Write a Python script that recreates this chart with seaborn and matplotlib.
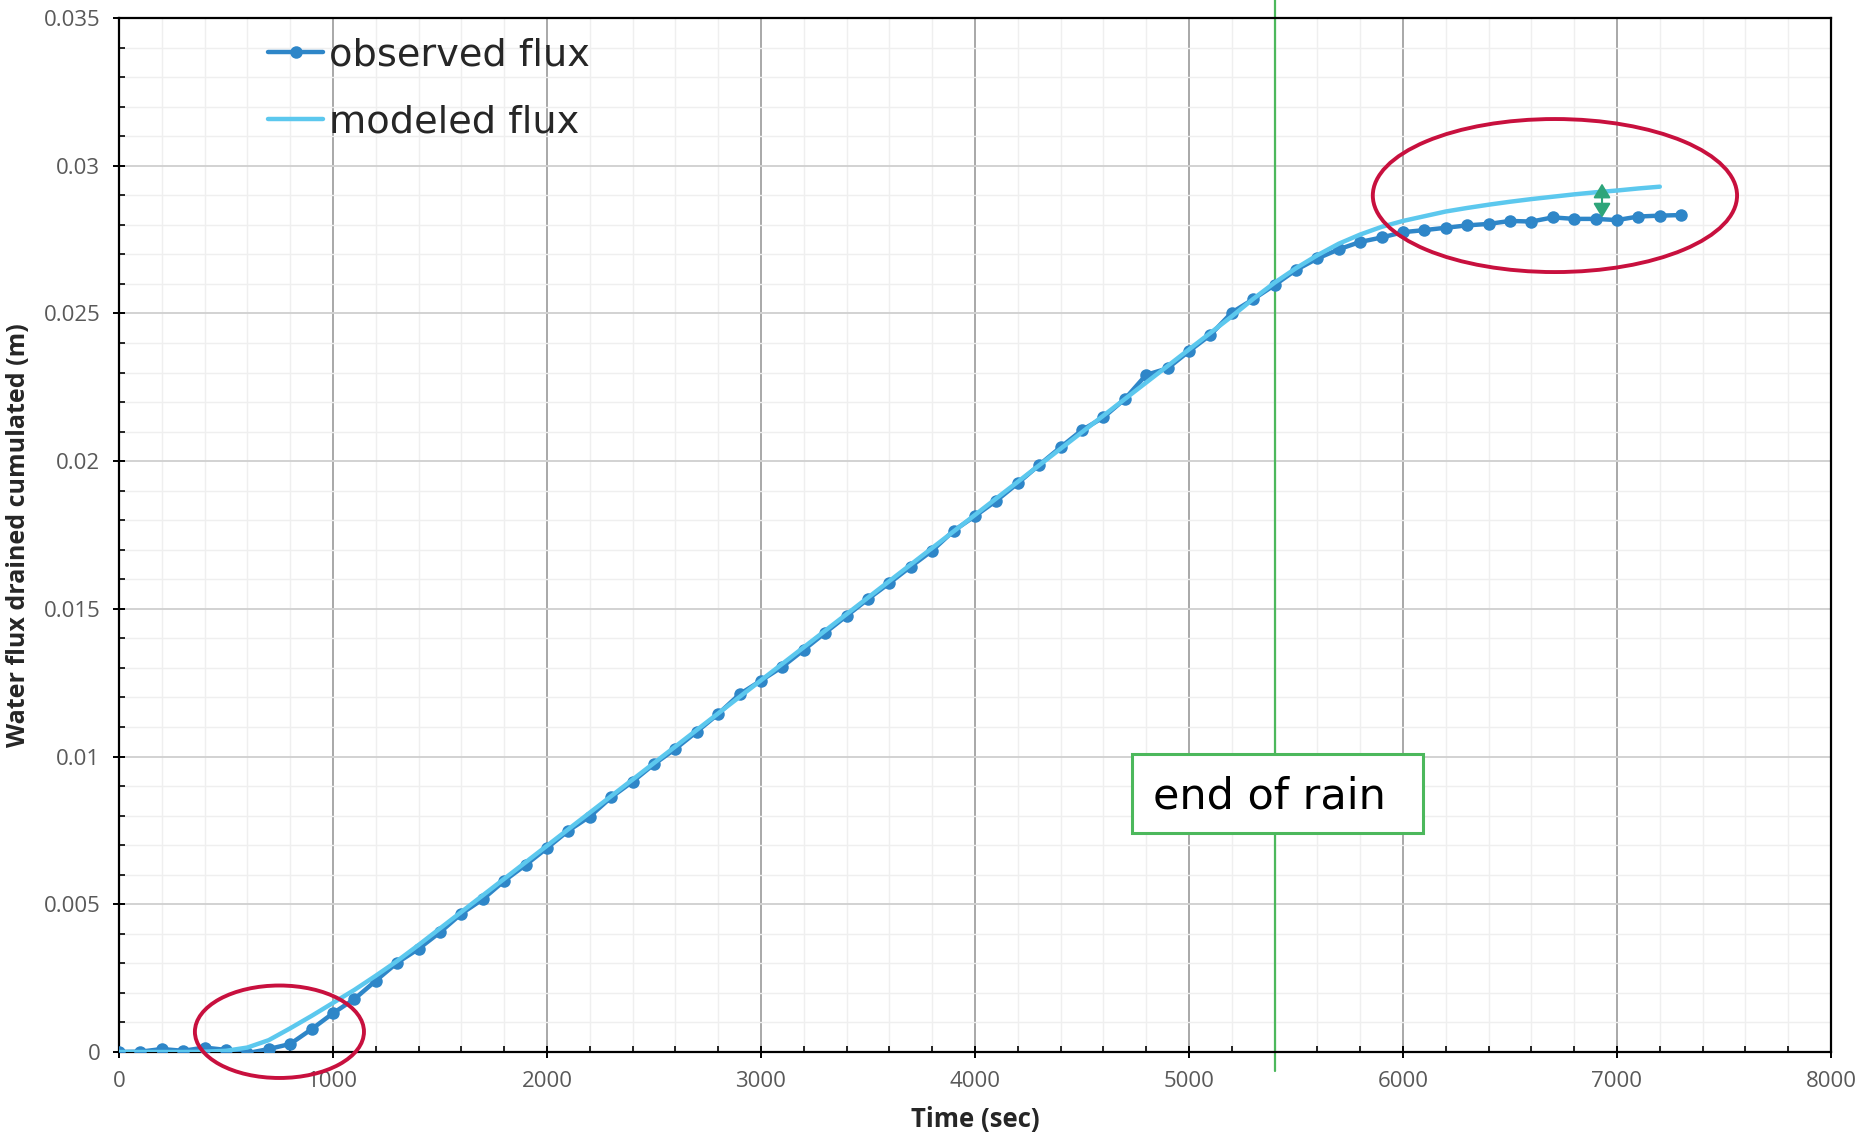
import numpy as np
import pandas as pd
import matplotlib
matplotlib.use("Agg")
import matplotlib.pyplot as plt
import seaborn as sns
from matplotlib.patches import Ellipse, Rectangle
from matplotlib.ticker import MultipleLocator, FuncFormatter

# ---------------- data ----------------
obs_time = [0, 100, 200, 300, 400, 500, 600, 700, 800, 900,
            1000, 1100, 1200, 1300, 1400, 1500, 1600, 1700, 1800, 1900,
            2000, 2100, 2200, 2300, 2400, 2500, 2600, 2700, 2800, 2900,
            3000, 3100, 3200, 3300, 3400, 3500, 3600, 3700, 3800, 3900,
            4000, 4100, 4200, 4300, 4400, 4500, 4600, 4700, 4800, 4900,
            5000, 5100, 5200, 5300, 5400, 5500, 5600, 5700, 5800, 5900,
            6000, 6100, 6200, 6300, 6400, 6500, 6600, 6700, 6800, 6900,
            7000, 7100, 7200, 7300]
obs_flux = [0.0, 0.00001, 0.0001, 0.00004, 0.00015, 0.00007, -0.00004, 0.0001, 0.00027, 0.00077,
            0.00131, 0.00179, 0.00241, 0.00302, 0.00349, 0.00405, 0.00468, 0.00517, 0.00579, 0.00633,
            0.0069, 0.00749, 0.00797, 0.00862, 0.00915, 0.00974, 0.01026, 0.01084, 0.01144, 0.01211,
            0.01257, 0.01304, 0.01361, 0.01419, 0.01476, 0.01533, 0.01587, 0.01643, 0.01697, 0.01764,
            0.01814, 0.01866, 0.01925, 0.01987, 0.02047, 0.02105, 0.02148, 0.0221, 0.02292, 0.02314,
            0.02372, 0.02427, 0.02503, 0.02548, 0.02596, 0.02647, 0.02686, 0.02717, 0.02742, 0.02757,
            0.02775, 0.02782, 0.0279, 0.02798, 0.02803, 0.02813, 0.02811, 0.02825, 0.0282, 0.0282,
            0.02816, 0.02828, 0.02831, 0.02833]

mod_time = [0, 100, 200, 300, 400, 500, 600, 700, 800, 900,
            1000, 1100, 1200, 1300, 1400, 1500, 1600, 1700, 1800, 1900,
            2000, 2100, 2200, 2300, 2400, 2500, 2600, 2700, 2800, 2900,
            3000, 3100, 3200, 3300, 3400, 3500, 3600, 3700, 3800, 3900,
            4000, 4100, 4200, 4300, 4400, 4500, 4600, 4700, 4800, 4900,
            5000, 5100, 5200, 5300, 5400, 5500, 5600, 5700, 5800, 5900,
            6000, 6100, 6200, 6300, 6400, 6500, 6600, 6700, 6800, 6900,
            7000, 7100, 7200]
mod_flux = [0.0, 0.0, 0.0, 0.0, 0.00001, 0.00004, 0.00015, 0.0004, 0.0008, 0.00122,
            0.00166, 0.0021, 0.00258, 0.00308, 0.00362, 0.00418, 0.00474, 0.0053, 0.00586, 0.00642,
            0.00698, 0.00754, 0.0081, 0.00866, 0.00922, 0.00978, 0.01034, 0.0109, 0.01146, 0.01202,
            0.01258, 0.01314, 0.0137, 0.01426, 0.01482, 0.01538, 0.01594, 0.0165, 0.01706, 0.01762,
            0.01818, 0.01874, 0.0193, 0.01986, 0.02042, 0.02098, 0.02154, 0.0221, 0.02266, 0.02322,
            0.02378, 0.02434, 0.0249, 0.02549, 0.02604, 0.02653, 0.02697, 0.02736, 0.02767, 0.02793,
            0.02813, 0.02829, 0.02845, 0.02857, 0.02868, 0.02878, 0.02887, 0.02895, 0.02903, 0.0291,
            0.02916, 0.02923, 0.02929]

series_labels = ["observed flux", "modeled flux"]
rain_end_time = 5400
annotation_text = "end of rain"
x_label = "Time (sec)"
y_label = "Water flux drained cumulated (m)"

# ---------------- style ----------------
sns.set_style("white")
plt.rcParams["font.family"] = ["DejaVu Sans"]

OBS_COLOR = "#2E86C8"
MOD_COLOR = "#5CC8EE"
RED = "#C8103E"
GREEN = "#4CB85C"
ARROW_GREEN = "#2EA57A"

fig = plt.figure(figsize=(18.64, 11.39), dpi=100)
ax = fig.add_axes([0.0638, 0.0764, 0.9185, 0.9078])

obs_df = pd.DataFrame({"time": obs_time, "flux": obs_flux})
mod_df = pd.DataFrame({"time": mod_time, "flux": mod_flux})

sns.lineplot(data=obs_df, x="time", y="flux", ax=ax, color=OBS_COLOR, lw=3.2,
             marker="o", markersize=9, markeredgewidth=0, zorder=3, label=series_labels[0])
sns.lineplot(data=mod_df, x="time", y="flux", ax=ax, color=MOD_COLOR, lw=3.2,
             zorder=4, label=series_labels[1])

ax.set_xlim(0, 8000)
ax.set_ylim(0, 0.035)

ax.xaxis.set_major_locator(MultipleLocator(1000))
ax.xaxis.set_minor_locator(MultipleLocator(200))
ax.yaxis.set_major_locator(MultipleLocator(0.005))
ax.yaxis.set_minor_locator(MultipleLocator(0.001))
ax.yaxis.set_major_formatter(FuncFormatter(lambda v, p: "0" if abs(v) < 1e-12 else ("%g" % round(v, 4))))

ax.grid(True, which="minor", color="#EFEFEF", lw=1.0, zorder=0)
ax.xaxis.grid(True, which="major", color="#A8A8A8", lw=1.4)
ax.yaxis.grid(True, which="major", color="#D2D2D2", lw=1.4)
ax.set_axisbelow(True)

for s in ax.spines.values():
    s.set_color("black")
    s.set_linewidth(1.6)

ax.tick_params(axis="both", which="major", direction="inout", length=9, width=1.4,
               color="black", labelsize=16, labelcolor="#595959", pad=9)
ax.tick_params(axis="both", which="minor", direction="in", length=4, width=1.2, color="black")
ax.tick_params(axis="both", which="both", top=False, right=False, bottom=True, left=True)
for lab in ax.get_xticklabels() + ax.get_yticklabels():
    lab.set_family("Open Sans")

ax.set_xlabel(x_label, fontsize=18.5, fontweight="bold", family="Open Sans", labelpad=10)
ax.set_ylabel(y_label, fontsize=18, fontweight="bold", family="Open Sans", labelpad=9)

# end of rain line
ax.axvline(rain_end_time, ymin=-0.018, ymax=1.02, color=GREEN, lw=1.6, clip_on=False, zorder=2)

# end of rain box
ax.add_patch(Rectangle((4734, 0.00741), 1359, 0.00268, facecolor="white",
                       edgecolor=GREEN, lw=2.2, zorder=5))
ax.text(4832, 0.00866, annotation_text, fontsize=31, va="center", ha="left",
        color="black", zorder=6)

# ellipses
ax.add_patch(Ellipse((750, 0.000685), 790, 0.00313, fill=False, edgecolor=RED,
                     lw=2.8, clip_on=False, zorder=6))
ax.add_patch(Ellipse((6710, 0.02899), 1702, 0.00518, fill=False, edgecolor=RED,
                     lw=2.8, clip_on=False, zorder=6))

# double arrow
ax.annotate("", xy=(6930, 0.02940), xytext=(6930, 0.02824),
            arrowprops=dict(arrowstyle="<|-|>,head_length=0.43,head_width=0.26",
                            color=ARROW_GREEN, lw=1.5,
                            mutation_scale=20, shrinkA=0, shrinkB=0), zorder=7)

leg = ax.legend(loc="upper left", bbox_to_anchor=(0.087, 0.981), frameon=False,
                fontsize=27.5, handlelength=1.45, handletextpad=0.15, labelspacing=0.8,
                borderpad=0, borderaxespad=0)

fig.savefig("out.png", dpi=100)
